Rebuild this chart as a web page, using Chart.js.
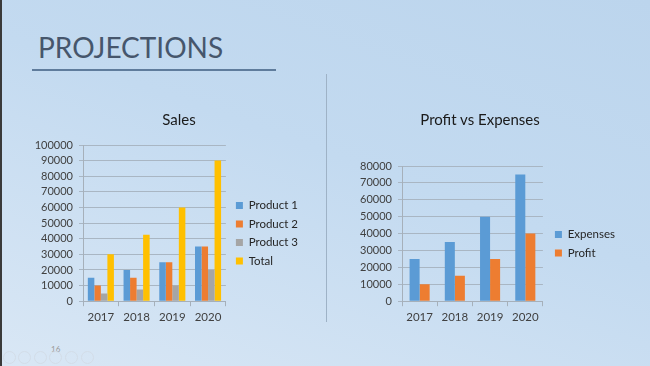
<!DOCTYPE html>
<html>
<head>
<meta charset="utf-8">
<script src="https://cdn.jsdelivr.net/npm/chart.js@4"></script>
<style>
  html, body { margin: 0; padding: 0; }
  body {
    width: 650px; height: 366px; overflow: hidden; position: relative;
    background: linear-gradient(200deg, #bcd5ed 0%, #c3daf0 45%, #d9e7f5 100%);
    font-family: Lato, "Open Sans", sans-serif;
  }
  #edge { position: absolute; left: 0; top: 0; width: 2px; height: 366px; background: #3a3a3a; }
  #heading {
    position: absolute; left: 38px; top: 30px; font-size: 28px; color: #46566c;
    letter-spacing: 0px; font-weight: 400;
  }
  #rule { position: absolute; left: 32px; top: 69px; width: 244px; height: 2px; background: #5f7c9c; }
  #divider { position: absolute; left: 326px; top: 74px; width: 1px; height: 248px; background: #9eb2c6; }
  .wrap { position: absolute; }
  .ctitle {
    position: absolute; top: 110px; width: 200px; text-align: center;
    font-size: 15px; line-height: 18px; color: #1a1a1a;
  }
  #pg { position: absolute; left: 51px; top: 344px; font-size: 8px; color: #9a9a9a; }
  .ctl { position: absolute; top: 351px; width: 11px; height: 11px; border: 1px solid #d3dde8; border-radius: 50%; }
</style>
</head>
<body>
<div id="edge"></div>
<div id="heading">PROJECTIONS</div>
<div id="rule"></div>
<div id="divider"></div>

<div class="wrap" style="left:30px; top:104px; width:298px; height:228px;">
  <canvas id="salesChart" width="298" height="228"></canvas>
</div>
<div class="wrap" style="left:345px; top:104px; width:282px; height:228px;">
  <canvas id="profitChart" width="282" height="228"></canvas>
</div>
<div class="ctitle" style="left:79px">Sales</div>
<div class="ctitle" style="left:380px">Profit vs Expenses</div>

<div id="pg">16</div>
<div class="ctl" style="left:3px"></div>
<div class="ctl" style="left:18px"></div>
<div class="ctl" style="left:34px"></div>
<div class="ctl" style="left:49px"></div>
<div class="ctl" style="left:65px"></div>
<div class="ctl" style="left:81px"></div>

<script>
const years = ['2017', '2018', '2019', '2020'];

const product1 = [15000, 20000, 25000, 35000];
const product2 = [10000, 15000, 25000, 35000];
const product3 = [5000, 7500, 10000, 20000];
const total = [30000, 42500, 60000, 90000];

const expenses = [25000, 35000, 50000, 75000];
const profit = [10000, 15000, 25000, 40000];

const blue = '#5b9bd5';
const orange = '#ed7d31';
const grey = '#a5a5a5';
const yellow = '#ffc000';

Chart.defaults.font.family = 'Lato, "Open Sans", sans-serif';
Chart.defaults.color = '#404040';
Chart.defaults.animation = false;

// nudge the legend a few px away from the plot, like the office chart
function legendNudge(px) {
    return {
        id: 'legendNudge',
        afterLayout(chart) {
            chart.legend.left += px;
            chart.legend.right += px;
        }
    };
}

// titles sit in html above the canvases, so only padding is set here
function makeOptions(yMax, yWidth, catPct, padTop, padRight) {
    return {
        responsive: false,
        layout: { padding: { top: padTop, right: padRight, bottom: 4 } },
        plugins: {
            legend: {
                position: 'right',
                fullSize: false,
                maxWidth: 110,
                title: { display: true, text: ' ', font: { size: 12 }, padding: 3 },
                labels: { boxWidth: 7, boxHeight: 7, padding: 7, font: { size: 11.5 }, color: '#262626' }
            },
            tooltip: { enabled: false }
        },
        datasets: { bar: { barPercentage: 1, categoryPercentage: catPct } },
        scales: {
            x: {
                grid: { drawOnChartArea: false, offset: true, tickLength: 5, color: '#a6b0ba' },
                border: { color: '#a6b0ba' },
                ticks: { font: { size: 11.5 }, padding: 4 }
            },
            y: {
                min: 0,
                max: yMax,
                afterFit: function(scale) { scale.width = yWidth; },
                grid: { color: '#a9b6c3', tickLength: 4 },
                border: { color: '#a6b0ba' },
                ticks: {
                    stepSize: 10000,
                    autoSkip: false,
                    font: { size: 11 },
                    padding: 6,
                    callback: function(value) { return String(value); }
                }
            }
        }
    };
}

new Chart(document.getElementById('salesChart'), {
    type: 'bar',
    data: {
        labels: years,
        datasets: [
            { label: 'Product 1', data: product1, backgroundColor: blue },
            { label: 'Product 2', data: product2, backgroundColor: orange },
            { label: 'Product 3', data: product3, backgroundColor: grey },
            { label: 'Total', data: total, backgroundColor: yellow }
        ]
    },
    options: makeOptions(100000, 53, 0.73, 41, 23),
    plugins: [legendNudge(3)]
});

new Chart(document.getElementById('profitChart'), {
    type: 'bar',
    data: {
        labels: years,
        datasets: [
            { label: 'Expenses', data: expenses, backgroundColor: blue },
            { label: 'Profit', data: profit, backgroundColor: orange }
        ]
    },
    options: makeOptions(80000, 57, 0.57, 62, 7),
    plugins: [legendNudge(5)]
});
</script>
</body>
</html>
